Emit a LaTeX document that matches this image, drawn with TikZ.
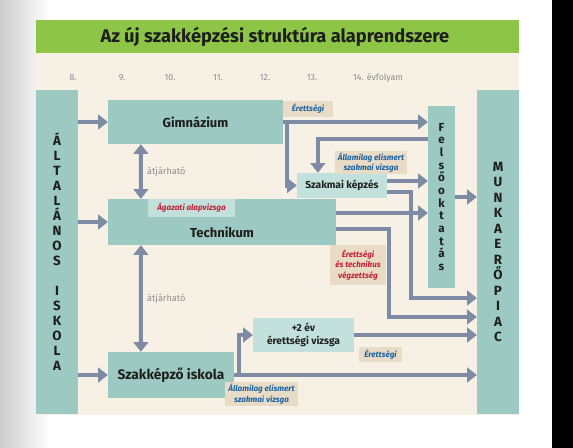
\documentclass[tikz,border=0pt]{standalone}
\usepackage{fontspec}
\setmainfont{Fira Sans}
\usepackage{xcolor}
\usetikzlibrary{arrows.meta,positioning,calc}

\definecolor{titlegreen}{RGB}{141,197,70}
\definecolor{paper}{RGB}{247,240,228}
\definecolor{tealbox}{RGB}{156,201,194}
\definecolor{tealpale}{RGB}{195,225,220}
\definecolor{tagbeige}{RGB}{233,220,199}
\definecolor{flowgray}{RGB}{125,139,164}
\definecolor{tagred}{RGB}{196,32,52}
\definecolor{tagblue}{RGB}{28,98,160}
\definecolor{inkdark}{RGB}{30,30,30}

\newcommand\titlefnt{\fontsize{26}{28}\selectfont\bfseries}
\newcommand\boxfnt{\fontsize{18.5}{20}\selectfont\bfseries}
\newcommand\midfnt{\fontsize{14.5}{17.5}\selectfont\bfseries}
\newcommand\tagfnt{\fontsize{11.5}{15}\selectfont\bfseries\itshape}
\newcommand\gradefnt{\fontsize{12.5}{14}\selectfont}
\newcommand\vertfnt{\fontsize{19}{21.35}\selectfont\bfseries}

\begin{document}
\begin{tikzpicture}[x=0.05cm, y=-0.05cm, >={Triangle[length=14pt,width=21pt]},
  every node/.style={inner sep=0pt, align=center, text=inkdark},
  schoolbox/.style={fill=tealbox, font=\boxfnt},
  palebox/.style={fill=tealpale, font=\midfnt},
  tagbox/.style={fill=tagbeige, font=\tagfnt},
  grade/.style={font=\gradefnt, text=black!45},
  flow/.style={draw=flowgray, line width=6pt, ->},
  both/.style={draw=flowgray, line width=6pt, <->},
  passlabel/.style={font=\fontsize{13}{15}\selectfont, text=black!45, anchor=west}]
% page
\useasboundingbox (0,0) rectangle (573,448);
\fill[white] (0,0) rectangle (573,448);
\shade[left color=black!20, right color=white] (0,0) rectangle (50,448);
\fill[black] (552,0) rectangle (573,448);
% frame and title
\fill[paper] (36,53) rectangle (519,415);
\fill[titlegreen] (36,20) rectangle (519,53);
\node (title) [font=\titlefnt] at (275,37) {Az új szakképzési struktúra alaprendszere};
% grades
\node (g8) [grade] at (73,78) {8.};
\node (g9) [grade] at (122,78) {9.};
\node (g10) [grade] at (170,78) {10.};
\node (g11) [grade] at (218,78) {11.};
\node (g12) [grade] at (265,78) {12.};
\node (g13) [grade] at (312,78) {13.};
\node (g14) [grade] at (378,78) {14. évfolyam};
% schools
\node (altalanos) [schoolbox, font=\vertfnt, minimum width=2.1cm, minimum height=16.2cm] at (57,252)
  {Á\\L\\T\\A\\L\\Á\\N\\O\\S\\\mbox{}\\I\\S\\K\\O\\L\\A};
\node (munka) [schoolbox, font=\fontsize{19}{22}\selectfont\bfseries, minimum width=2.1cm, minimum height=16.2cm] at (498,252)
  {M\\U\\N\\K\\A\\E\\R\\Ő\\P\\I\\A\\C};
\node (gimn) [schoolbox, minimum width=8.75cm, minimum height=2.2cm] at (195.5,122) {Gimnázium};
\node (tech) [schoolbox, minimum width=11.4cm, minimum height=2.3cm,
  label={[font=\boxfnt, yshift=-15pt]center:Technikum}] at (222,222) {};
\node (szakk) [schoolbox, font=\fontsize{19.5}{21}\selectfont\bfseries, minimum width=6.3cm, minimum height=2.3cm] at (171,375) {Szakképző iskola};
\node (felso) [schoolbox, font=\fontsize{16.5}{18}\selectfont\bfseries, minimum width=1.35cm, minimum height=9.1cm] at (441.5,197)
  {F\\e\\l\\s\\ő\\o\\k\\t\\a\\t\\á\\s};
\node (szakmai) [palebox, minimum width=4.5cm, minimum height=1.25cm] at (342,185.5) {Szakmai képzés};
\node (plus2) [palebox, minimum width=5.05cm, minimum height=1.7cm] at (303.5,335) {+2 év\\érettségi vizsga};
% helper corners
\coordinate (k1) at (411,298);
\coordinate (k2) at (389,317);
% connectors
\draw[flow] (altalanos.east |- gimn.west) -- (gimn.west);
\draw[flow] (altalanos.east |- tech.west) -- (tech.west);
\draw[flow] (altalanos.east |- szakk.west) -- (szakk.west);
\draw[both] ($(gimn.south west)+(33,0)$) -- ($(tech.north west)+(33,0)$)
  node[passlabel, midway, xshift=6pt] {átjárható};
\draw[both] ($(tech.south west)+(33,0)$) -- ($(szakk.north west)+(33,0)$)
  node[passlabel, midway, xshift=6pt] {átjárható};
\draw[flow] (gimn.east) -- (gimn.east -| felso.west);
\draw[flow] ($(gimn.east)+(4,0)$) |- (szakmai.west);
\draw[flow] ($(felso.north west)+(0,33)$) -| ($(szakmai.north west)+(21,0)$);
\draw[flow] ($(szakmai.east)+(0,-4.5)$) coordinate (s1) -- (s1 -| felso.west);
\draw[flow] ($(szakmai.east)+(0,6.5)$) -| (k1) -- (k1 -| munka.west);
\draw[flow] ($(tech.east)+(0,-9)$) coordinate (t1) -- (t1 -| felso.west);
\draw[flow] ($(tech.east)+(0,7)$) -| (k2) -- (k2 -| munka.west);
\draw[flow] (felso.east) -- (felso.east -| munka.west);
\draw[flow] (plus2.east) -- (plus2.east -| munka.west);
\draw[flow] ($(szakk.east)+(5,0)$) |- (plus2.west);
\draw[flow] (szakk.east) -- (szakk.east -| munka.west);
% exam tags
\node (agazati) [fill=tealpale, font=\tagfnt, text=tagred, minimum width=4.35cm, minimum height=0.9cm] at (191.5,208) {Ágazati alapvizsga};
\node (erett1) [tagbox, text=tagblue, minimum width=2.5cm, minimum height=0.8cm] at (308,109) {Érettségi};
\node (allam1) [tagbox, text=tagblue, minimum width=3.6cm, minimum height=1.15cm] at (371,162.5) {Államilag elismert\\szakmai vizsga};
\node (erettech) [tagbox, text=tagred, minimum width=2.8cm, minimum height=2.0cm] at (358,265) {Érettségi\\és technikus\\végzettség};
\node (erett2) [tagbox, text=tagblue, minimum width=2.15cm, minimum height=0.75cm] at (380.5,354.5) {Érettségi};
\node (allam2) [tagbox, text=tagblue, minimum width=3.65cm, minimum height=1.2cm] at (261.5,394) {Államilag elismert\\szakmai vizsga};
\end{tikzpicture}
\end{document}
